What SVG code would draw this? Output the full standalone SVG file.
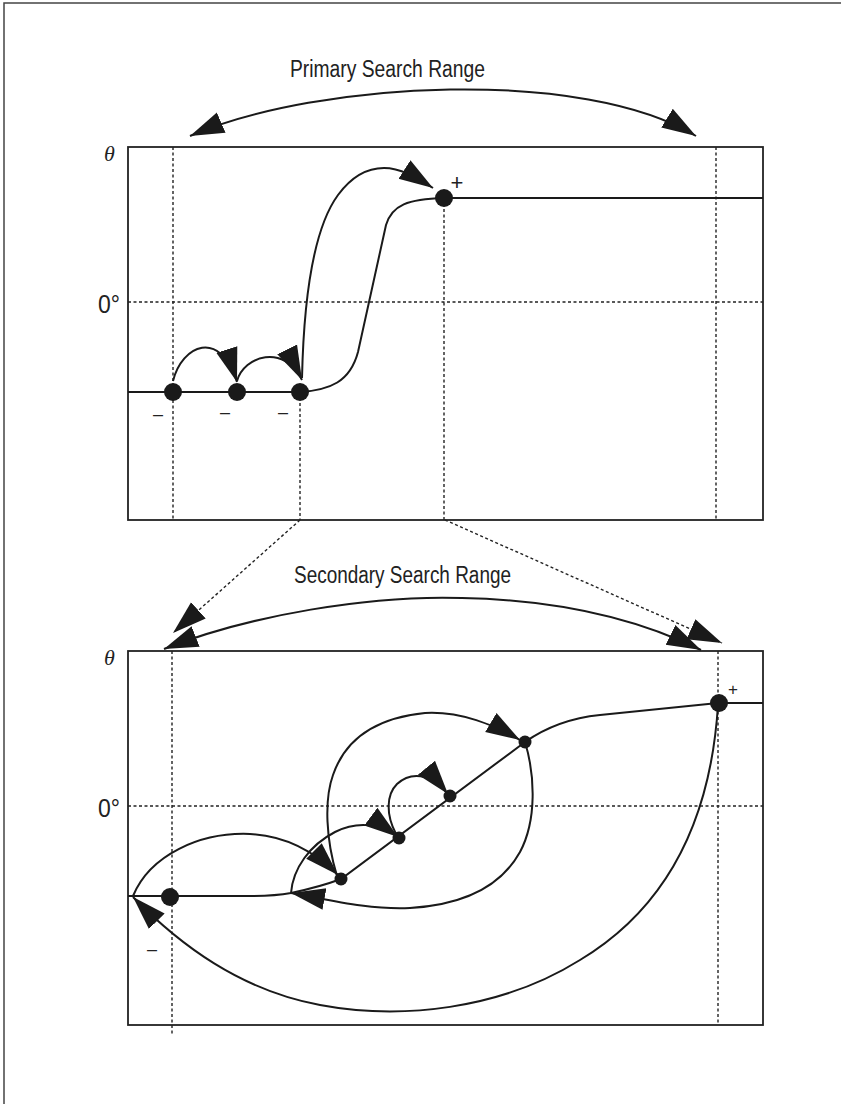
<svg xmlns="http://www.w3.org/2000/svg" width="841" height="1104" viewBox="0 0 841 1104">
<defs>
<marker id="ah" markerUnits="userSpaceOnUse" markerWidth="38" markerHeight="26" refX="34" refY="12" orient="auto-start-reverse" viewBox="0 0 38 26"><path d="M0,1 L34,12 L0,23 z" fill="#1a1a1a"/></marker>
</defs>
<style>
.frame{fill:none;stroke:#444;stroke-width:1.5}
.box{fill:none;stroke:#222;stroke-width:1.8}
.dash{fill:none;stroke:#222;stroke-width:1.4;stroke-dasharray:3 2.5}
.curve{fill:none;stroke:#1a1a1a;stroke-width:2}
.arr{marker-end:url(#ah)}
.both{marker-start:url(#ah);marker-end:url(#ah)}
.dot{fill:#1a1a1a}
.lbl{font-family:'Liberation Sans Narrow','Liberation Sans',Arial,sans-serif;fill:#222}
.sign{font-family:'Liberation Sans',Arial,sans-serif;fill:#222;text-anchor:middle}
.theta{font-family:'Liberation Serif','Times New Roman',serif;font-style:italic;font-size:22px;fill:#222}
</style>
<rect width="841" height="1104" fill="#fff"/>
<path class="frame" d="M4,1104 V3 H841"/>

<g id="titles">
<text class="lbl" x="290" y="77" font-size="23" textLength="195" lengthAdjust="spacingAndGlyphs">Primary Search Range</text>
<text class="lbl" x="294" y="583" font-size="23" textLength="217" lengthAdjust="spacingAndGlyphs">Secondary Search Range</text>
</g>

<g id="top-plot">
<rect class="box" x="128" y="147" width="635" height="373"/>
<text class="theta" x="104" y="161">θ</text>
<text class="lbl" x="98" y="313" font-size="26" textLength="22" lengthAdjust="spacingAndGlyphs">0°</text>
<path class="dash" d="M173,147 V520 M716,147 V520 M300,392 V520 M444,198 V520 M128,302 H763"/>
</g>

<g id="bottom-plot">
<rect class="box" x="128" y="651" width="635" height="374"/>
<text class="theta" x="104" y="665">θ</text>
<text class="lbl" x="98" y="817" font-size="26" textLength="22" lengthAdjust="spacingAndGlyphs">0°</text>
<path class="dash" d="M172,651 V1035 M718,651 V1025 M128,806 H763"/>
</g>

<g id="connectors">
<path class="curve both" d="M190,136 C320,80 585,68 696,136"/>
<path class="dash arr" d="M300,520 L173,633"/>
<path class="dash arr" d="M445,520 L722,643"/>
<path class="curve both" d="M164,649 C250,615 370,595 462,598 C560,600 640,620 701,650"/>

<path class="curve" d="M128,392 L300,392 C330,390 350,382 358,352 L386,225 C392,205 408,199 444,198 L763,198"/>
<path class="curve arr" d="M173,381 C182,345 220,328 237,382"/>
<path class="curve arr" d="M237,381 C244,356 284,343 302,380"/>
<path class="curve arr" d="M302,378 C304,290 316,225 338,195 C352,176 368,168 384,168 C400,168 416,177 433,188"/>

<path class="curve" d="M128,896 L250,896 C270,896 280,895 291,893 C310,889 325,885 341,879 L525,742 C545,728 570,718 600,715 L718,703 L763,703"/>
<path class="curve arr" d="M718,705 C712,800 680,900 580,960 C500,1010 400,1020 320,1005 C240,990 180,945 133,897"/>
<path class="curve arr" d="M133,896 C150,855 200,832 250,834 C290,836 318,855 338,875"/>
<path class="curve arr" d="M337,876 C326,840 324,800 333,775 C345,740 375,718 425,713 C460,711 495,725 520,740"/>
<path class="curve arr" d="M525,742 C535,775 537,820 520,852 C500,888 460,905 410,908 C370,910 330,900 291,893"/>
<path class="curve arr" d="M291,893 C293,868 310,845 335,832 C355,822 378,822 398,837"/>
<path class="curve arr" d="M396,834 C386,815 386,795 397,784 C410,772 430,772 448,794"/>
</g>

<g id="node-t1"><circle class="dot" cx="173" cy="392" r="9"/><text class="sign" x="158" y="420" font-size="18">–</text></g>
<g id="node-t2"><circle class="dot" cx="237" cy="392" r="9"/><text class="sign" x="225" y="418" font-size="18">–</text></g>
<g id="node-t3"><circle class="dot" cx="300" cy="392" r="9"/><text class="sign" x="283" y="418" font-size="18">–</text></g>
<g id="node-t4"><circle class="dot" cx="444" cy="198" r="9"/><text class="sign" x="457" y="190" font-size="22">+</text></g>

<g id="node-b1"><circle class="dot" cx="170" cy="897" r="9"/><text class="sign" x="152" y="955" font-size="18">–</text></g>
<g id="node-b2"><circle class="dot" cx="341" cy="879" r="6.5"/></g>
<g id="node-b3"><circle class="dot" cx="399" cy="838" r="6.5"/></g>
<g id="node-b4"><circle class="dot" cx="450" cy="796" r="6.5"/></g>
<g id="node-b5"><circle class="dot" cx="525" cy="742" r="6.5"/></g>
<g id="node-b6"><circle class="dot" cx="719" cy="703" r="9"/><text class="sign" x="733" y="695" font-size="17">+</text></g>
</svg>
